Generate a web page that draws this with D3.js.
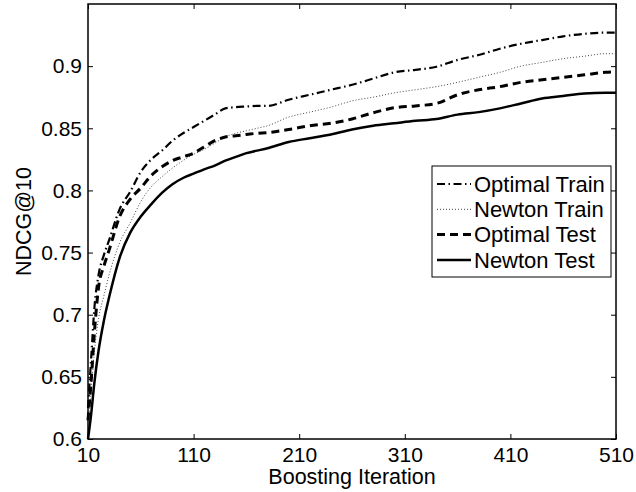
<!DOCTYPE html>
<html>
<head>
<meta charset="utf-8">
<script src="https://cdn.jsdelivr.net/npm/d3@7"></script>
<style>
  body { margin: 0; background: #fff; }
  text { font-family: "Liberation Sans", Arial, sans-serif; fill: #000; }
</style>
</head>
<body>
<div id="svg-wrap"></div>
<script>
var width = 636;
var height = 492;

// boosting iterations (x)
var iters = [10, 13, 16, 20, 25, 30, 40, 50, 60, 70, 80, 90, 100, 110, 120, 130, 140, 150, 160, 170, 180,
  200, 220, 240, 260, 280, 300, 320, 340, 360, 380, 400, 420, 440, 460, 480, 500, 510];

var optimalTrain = [0.625, 0.665, 0.705, 0.732, 0.748, 0.760, 0.785, 0.799, 0.815, 0.825, 0.832, 0.840, 0.846, 0.851,
  0.856, 0.861, 0.866, 0.867, 0.8675, 0.868, 0.868, 0.873, 0.877, 0.881, 0.885, 0.890, 0.895, 0.897, 0.8995,
  0.905, 0.909, 0.914, 0.918, 0.921, 0.924, 0.926, 0.927, 0.927];
var newtonTrain = [0.61, 0.64, 0.67, 0.697, 0.715, 0.732, 0.758, 0.774, 0.791, 0.803, 0.811, 0.818, 0.824, 0.829,
  0.833, 0.838, 0.843, 0.846, 0.848, 0.850, 0.852, 0.859, 0.863, 0.867, 0.872, 0.875, 0.8785, 0.881, 0.8835,
  0.887, 0.891, 0.895, 0.900, 0.903, 0.906, 0.908, 0.910, 0.910];
var optimalTest = [0.615, 0.647, 0.685, 0.722, 0.739, 0.752, 0.779, 0.793, 0.802, 0.812, 0.819, 0.824, 0.827, 0.830,
  0.835, 0.840, 0.843, 0.844, 0.845, 0.846, 0.8465, 0.849, 0.852, 0.854, 0.8575, 0.8625, 0.8665, 0.868, 0.870,
  0.877, 0.881, 0.8835, 0.887, 0.889, 0.891, 0.893, 0.895, 0.8955];
var newtonTest = [0.600, 0.620, 0.645, 0.671, 0.695, 0.714, 0.746, 0.766, 0.779, 0.789, 0.798, 0.805, 0.810, 0.8135,
  0.817, 0.820, 0.824, 0.827, 0.830, 0.832, 0.834, 0.839, 0.842, 0.845, 0.849, 0.852, 0.854, 0.856, 0.8575,
  0.861, 0.863, 0.866, 0.870, 0.874, 0.876, 0.878, 0.8785, 0.8785];

var xTicks = [10, 110, 210, 310, 410, 510];
var yTicks = [0.6, 0.65, 0.7, 0.75, 0.8, 0.85, 0.9];

var series = [
  { name: "Optimal Train", values: optimalTrain, width: 2.2, dash: "8,3.5,1.5,3.5", color: "#000" },
  { name: "Newton Train", values: newtonTrain, width: 1, dash: "1,2", color: "#444" },
  { name: "Optimal Test", values: optimalTest, width: 3, dash: "8,5", color: "#000" },
  { name: "Newton Test", values: newtonTest, width: 2.5, dash: null, color: "#000" }
];

var margin = { left: 88, top: 4, right: 20, bottom: 53 };

var x = d3.scaleLinear().domain([10, 510]).range([margin.left, width - margin.right]);
var y = d3.scaleLinear().domain([0.6, 0.95]).range([height - margin.bottom, margin.top]);

var svg = d3.select('#svg-wrap').append('svg')
  .attr('width', width)
  .attr('height', height);

var fmt = d => d3.format('')(+d.toFixed(2));

// axes with inward ticks (matlab style)
var tickLen = 5;
svg.append('g')
  .attr('transform', `translate(0,${y(0.6)})`)
  .call(d3.axisBottom(x).tickValues(xTicks).tickSize(-tickLen).tickPadding(8).tickFormat(d3.format('d')))
  .call(g => g.select('.domain').remove())
  .call(g => g.selectAll('.tick line').attr('stroke-width', 1))
  .call(g => g.selectAll('text').attr('font-size', 21).attr('fill', '#000'));

svg.append('g')
  .attr('transform', `translate(0,${y(0.95)})`)
  .call(d3.axisTop(x).tickValues(xTicks).tickSize(-tickLen).tickFormat(''))
  .call(g => g.select('.domain').remove());

svg.append('g')
  .attr('transform', `translate(${x(10)},0)`)
  .call(d3.axisLeft(y).tickValues(yTicks).tickSize(-tickLen).tickPadding(6).tickFormat(fmt))
  .call(g => g.select('.domain').remove())
  .call(g => g.selectAll('text').attr('font-size', 21).attr('fill', '#000'));

svg.append('g')
  .attr('transform', `translate(${x(510)},0)`)
  .call(d3.axisRight(y).tickValues(yTicks).tickSize(-tickLen).tickFormat(''))
  .call(g => g.select('.domain').remove());

svg.append('rect')
  .attr('x', x(10)).attr('y', y(0.95))
  .attr('width', x(510) - x(10)).attr('height', y(0.6) - y(0.95))
  .attr('fill', 'none').attr('stroke', '#000').attr('stroke-width', 1.5);

// lines
var line = d3.line()
  .x((d, i) => x(iters[i]))
  .y(d => y(d))
  .curve(d3.curveMonotoneX);

svg.append('g')
  .selectAll('path')
  .data(series)
  .join('path')
    .attr('d', d => line(d.values))
    .attr('fill', 'none')
    .attr('stroke', d => d.color)
    .attr('stroke-width', d => d.width)
    .attr('stroke-dasharray', d => d.dash)
    .attr('stroke-linejoin', 'round');

// axis labels
svg.append('text')
  .attr('x', (x(10) + x(510)) / 2)
  .attr('y', 484)
  .attr('text-anchor', 'middle')
  .attr('font-size', 21.5)
  .text('Boosting Iteration');

svg.append('text')
  .attr('transform', `translate(31,${(y(0.6) + y(0.95)) / 2}) rotate(-90)`)
  .attr('text-anchor', 'middle')
  .attr('font-size', 21.5)
  .text('NDCG@10');

// legend
var legend = svg.append('g');
legend.append('rect')
  .attr('x', 432).attr('y', 166)
  .attr('width', 179).attr('height', 111)
  .attr('fill', '#fff').attr('stroke', '#000').attr('stroke-width', 1);

var item = legend.selectAll('g.item')
  .data(series)
  .join('g')
    .attr('class', 'item')
    .attr('transform', (d, i) => `translate(0,${184 + i * 25.3})`);

item.append('line')
  .attr('x1', 437).attr('x2', 471)
  .attr('stroke', d => d.color)
  .attr('stroke-width', d => d.width)
  .attr('stroke-dasharray', d => d.dash);

item.append('text')
  .attr('x', 474)
  .attr('dy', '0.35em')
  .attr('font-size', 22)
  .text(d => d.name);
</script>
</body>
</html>
